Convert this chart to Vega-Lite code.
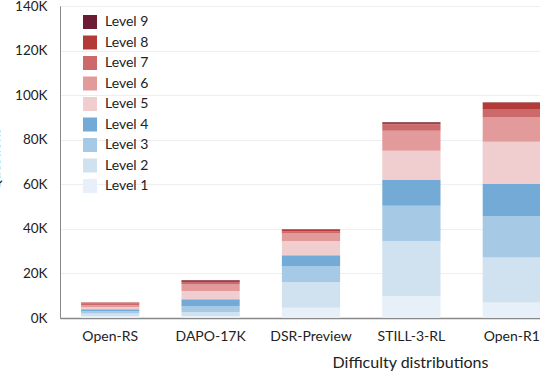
{
  "$schema": "https://vega.github.io/schema/vega-lite/v6.json",
  "autosize": "none",
  "width": 502,
  "height": 312,
  "padding": {"left": 60, "top": 6, "right": -22, "bottom": 54},
  "background": "white",
  "config": {
    "font": "Lato",
    "view": {"stroke": "#9a9a9a", "strokeWidth": 1}
  },
  "data": {
    "values": [
      {"dataset": "Open-RS", "level": "Level 1", "n": 1, "count": 800},
      {"dataset": "Open-RS", "level": "Level 2", "n": 2, "count": 1200},
      {"dataset": "Open-RS", "level": "Level 3", "n": 3, "count": 1000},
      {"dataset": "Open-RS", "level": "Level 4", "n": 4, "count": 900},
      {"dataset": "Open-RS", "level": "Level 5", "n": 5, "count": 900},
      {"dataset": "Open-RS", "level": "Level 6", "n": 6, "count": 1000},
      {"dataset": "Open-RS", "level": "Level 7", "n": 7, "count": 800},
      {"dataset": "Open-RS", "level": "Level 8", "n": 8, "count": 300},
      {"dataset": "Open-RS", "level": "Level 9", "n": 9, "count": 100},
      {"dataset": "DAPO-17K", "level": "Level 1", "n": 1, "count": 900},
      {"dataset": "DAPO-17K", "level": "Level 2", "n": 2, "count": 1800},
      {"dataset": "DAPO-17K", "level": "Level 3", "n": 3, "count": 2700},
      {"dataset": "DAPO-17K", "level": "Level 4", "n": 4, "count": 3000},
      {"dataset": "DAPO-17K", "level": "Level 5", "n": 5, "count": 3700},
      {"dataset": "DAPO-17K", "level": "Level 6", "n": 6, "count": 2900},
      {"dataset": "DAPO-17K", "level": "Level 7", "n": 7, "count": 1200},
      {"dataset": "DAPO-17K", "level": "Level 8", "n": 8, "count": 600},
      {"dataset": "DAPO-17K", "level": "Level 9", "n": 9, "count": 200},
      {"dataset": "DSR-Preview", "level": "Level 1", "n": 1, "count": 4600},
      {"dataset": "DSR-Preview", "level": "Level 2", "n": 2, "count": 11400},
      {"dataset": "DSR-Preview", "level": "Level 3", "n": 3, "count": 7300},
      {"dataset": "DSR-Preview", "level": "Level 4", "n": 4, "count": 4900},
      {"dataset": "DSR-Preview", "level": "Level 5", "n": 5, "count": 6400},
      {"dataset": "DSR-Preview", "level": "Level 6", "n": 6, "count": 3500},
      {"dataset": "DSR-Preview", "level": "Level 7", "n": 7, "count": 700},
      {"dataset": "DSR-Preview", "level": "Level 8", "n": 8, "count": 800},
      {"dataset": "DSR-Preview", "level": "Level 9", "n": 9, "count": 200},
      {"dataset": "STILL-3-RL", "level": "Level 1", "n": 1, "count": 9900},
      {"dataset": "STILL-3-RL", "level": "Level 2", "n": 2, "count": 24500},
      {"dataset": "STILL-3-RL", "level": "Level 3", "n": 3, "count": 16000},
      {"dataset": "STILL-3-RL", "level": "Level 4", "n": 4, "count": 11500},
      {"dataset": "STILL-3-RL", "level": "Level 5", "n": 5, "count": 13100},
      {"dataset": "STILL-3-RL", "level": "Level 6", "n": 6, "count": 9000},
      {"dataset": "STILL-3-RL", "level": "Level 7", "n": 7, "count": 2800},
      {"dataset": "STILL-3-RL", "level": "Level 8", "n": 8, "count": 900},
      {"dataset": "STILL-3-RL", "level": "Level 9", "n": 9, "count": 300},
      {"dataset": "Open-R1", "level": "Level 1", "n": 1, "count": 6900},
      {"dataset": "Open-R1", "level": "Level 2", "n": 2, "count": 20300},
      {"dataset": "Open-R1", "level": "Level 3", "n": 3, "count": 18600},
      {"dataset": "Open-R1", "level": "Level 4", "n": 4, "count": 14300},
      {"dataset": "Open-R1", "level": "Level 5", "n": 5, "count": 19000},
      {"dataset": "Open-R1", "level": "Level 6", "n": 6, "count": 10900},
      {"dataset": "Open-R1", "level": "Level 7", "n": 7, "count": 3800},
      {"dataset": "Open-R1", "level": "Level 8", "n": 8, "count": 2900},
      {"dataset": "Open-R1", "level": "Level 9", "n": 9, "count": 100}
    ]
  },
  "mark": {"type": "bar", "stroke": null},
  "encoding": {
    "x": {
      "field": "dataset",
      "type": "nominal",
      "sort": ["Open-RS", "DAPO-17K", "DSR-Preview", "STILL-3-RL", "Open-R1"],
      "scale": {"paddingInner": 0.42, "paddingOuter": 0.21},
      "axis": {
        "title": "Difficulty distributions",
        "titleX": 350,
        "titleY": 36,
        "titleBaseline": "top",
        "titleFontSize": 16,
        "titleFontWeight": "normal",
        "titleColor": "#222",
        "labelAngle": 0,
        "labelFontSize": 14,
        "labelColor": "#222",
        "labelPadding": 11,
        "ticks": false,
        "domainColor": "#888",
        "domainWidth": 1.5
      }
    },
    "y": {
      "field": "count",
      "type": "quantitative",
      "stack": "zero",
      "scale": {"domain": [0, 140000], "nice": false},
      "axis": {
        "title": "Questions",
        "titleX": -58,
        "titleY": 153,
        "titleFontSize": 14,
        "titleFontWeight": "normal",
        "titleColor": "#222",
        "values": [0, 20000, 40000, 60000, 80000, 100000, 120000, 140000],
        "labelExpr": "datum.value / 1000 + 'K'",
        "labelFontSize": 13.5,
        "labelColor": "#222",
        "labelPadding": 13,
        "ticks": false,
        "domainColor": "#888",
        "grid": true,
        "gridColor": "#eeeeee",
        "gridWidth": 1
      }
    },
    "color": {
      "field": "level",
      "type": "nominal",
      "scale": {
        "domain": ["Level 9", "Level 8", "Level 7", "Level 6", "Level 5", "Level 4", "Level 3", "Level 2", "Level 1"],
        "range": ["#6b1b33", "#b33a37", "#cc6a6b", "#e39a9b", "#f0cdcf", "#74aad6", "#a6c9e5", "#d0e1ef", "#e7eff8"]
      },
      "legend": {
        "title": null,
        "orient": "none",
        "legendX": 23,
        "legendY": 9,
        "symbolType": "square",
        "symbolSize": 196,
        "symbolStrokeWidth": 0,
        "labelFontSize": 14,
        "labelColor": "#222",
        "labelOffset": 8,
        "rowPadding": 6.5,
        "padding": 0
      }
    },
    "order": {"field": "n", "type": "quantitative", "sort": "ascending"}
  }
}
